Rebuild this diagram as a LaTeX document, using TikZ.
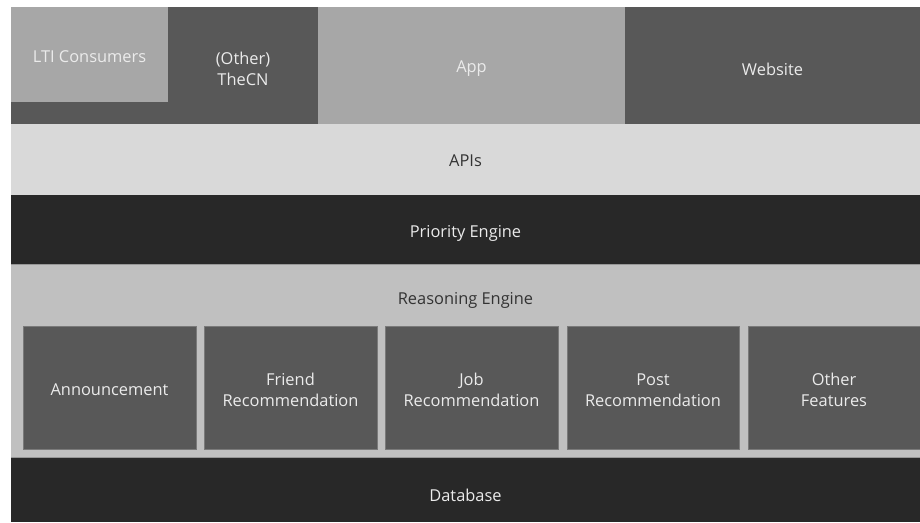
\documentclass[tikz,border=0pt]{standalone}
\usepackage{fontspec}
\setmainfont{Open Sans}
\definecolor{dkgray}{HTML}{585858}
\definecolor{ltgray}{HTML}{A7A7A7}
\definecolor{apigray}{HTML}{D9D9D9}
\definecolor{blackish}{HTML}{282828}
\definecolor{midgray}{HTML}{C0C0C0}
\definecolor{boxedge}{HTML}{7A7A7A}
\definecolor{lighttext}{HTML}{EBEBEB}
\definecolor{darktext}{HTML}{333333}
\begin{document}
\begin{tikzpicture}[x=1pt,y=-1pt,
  lbl/.style={font=\fontsize{16.4}{21}\selectfont, align=center, text=lighttext},
  dlbl/.style={lbl, text=darktext},
  feature/.style={draw=boxedge, line width=0.8pt, fill=dkgray}]
\useasboundingbox (0,0) rectangle (920,522);
\fill[white] (0,0) rectangle (920,522);
% client layer
\fill[dkgray] (11,7) rectangle (318,124);
\fill[ltgray] (11,7) rectangle (168,102);
\fill[ltgray] (318,7) rectangle (625,124);
\fill[dkgray] (625,7) rectangle (920,124);
\node[lbl] (lti) at (89.5,57) {LTI Consumers};
\node[lbl] (thecn) at (243,69) {(Other)\\TheCN};
\node[lbl] (app) at (471.5,69) {App};
\node[lbl] (web) at (772.5,69) {Website};
% service layers
\fill[apigray] (11,124) rectangle (920,195);
\node[dlbl] (apis) at (465.5,161) {APIs};
\fill[blackish] (11,195) rectangle (920,264);
\node[lbl] (prio) at (465.5,233) {Priority Engine};
\fill[midgray] (11,264) rectangle (920,458);
\draw[boxedge!60!midgray, line width=0.6pt] (11,264.3) -- (920,264.3) (11,457.7) -- (920,457.7);
\node[dlbl] (reason) at (465.5,300) {Reasoning Engine};
% feature modules
\draw[feature] (23,326) rectangle (196,449);
\draw[feature] (204,326) rectangle (377,449);
\draw[feature] (385,326) rectangle (558,449);
\draw[feature] (567,326) rectangle (739,449);
\draw[feature] (748,326) rectangle (921,449);
\node[lbl] (ann) at (109.5,390) {Announcement};
\node[lbl] (friend) at (290.5,390) {Friend\\Recommendation};
\node[lbl] (job) at (471.5,390) {Job\\Recommendation};
\node[lbl] (post) at (653,390) {Post\\Recommendation};
\node[lbl] (other) at (834,390) {Other\\Features};
% storage layer
\fill[blackish] (11,458) rectangle (920,522);
\node[lbl] (db) at (465.5,495) {Database};
\end{tikzpicture}
\end{document}
